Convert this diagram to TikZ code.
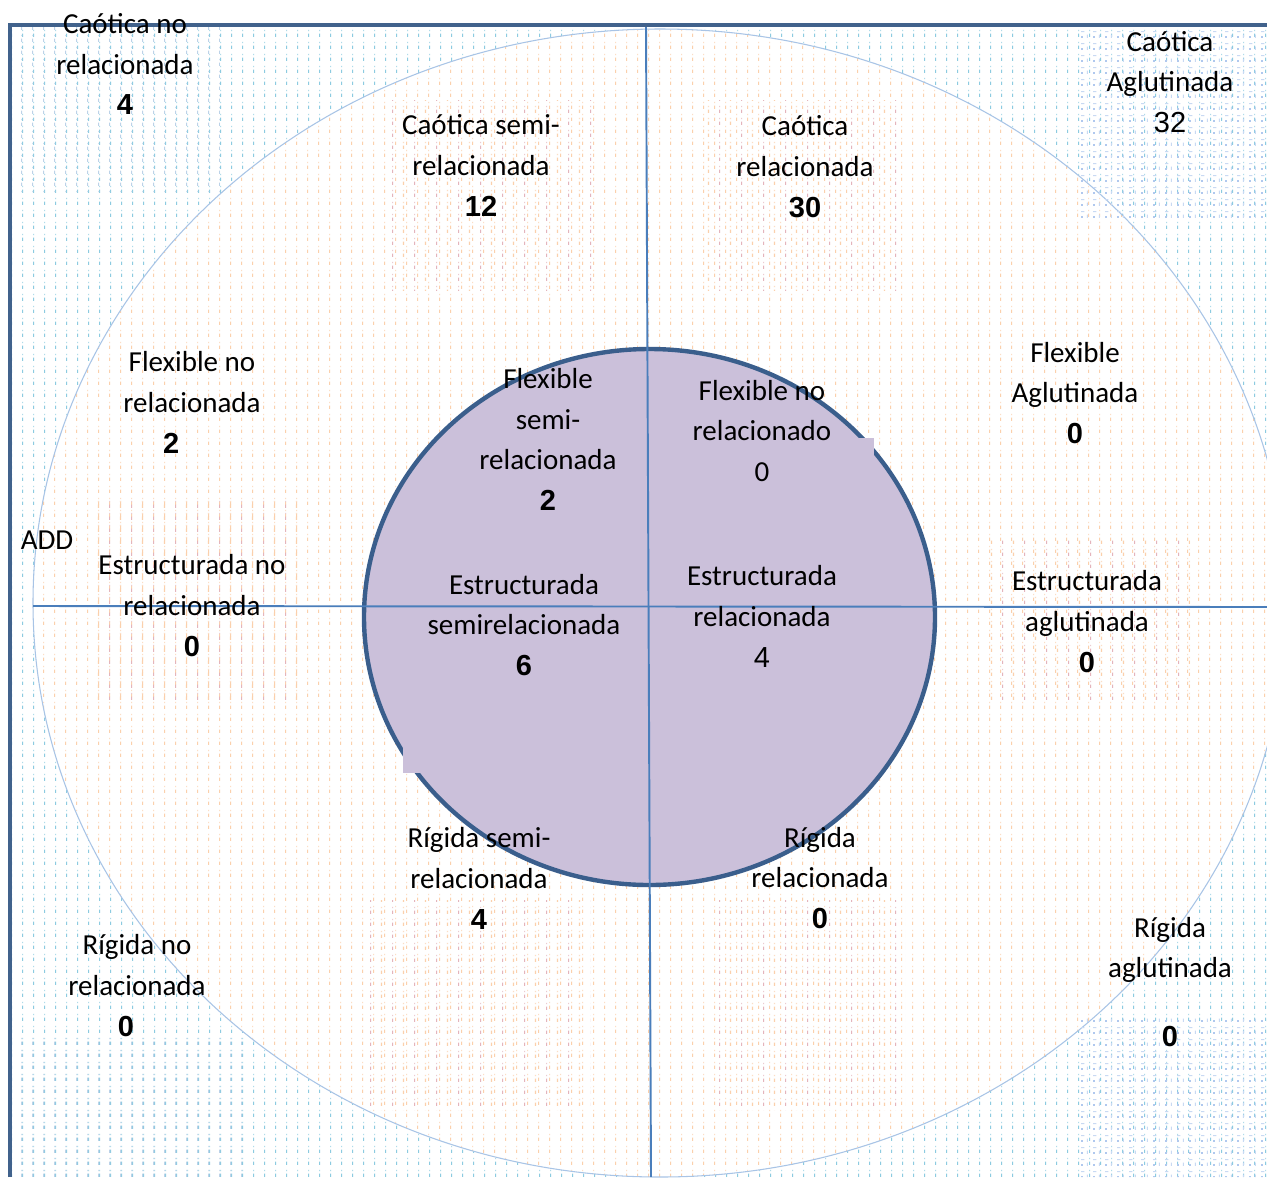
\documentclass[tikz,border=0pt]{standalone}
\usepackage{fontspec}
\setmainfont{Carlito}
\newfontfamily\numfont{Liberation Sans}
\usetikzlibrary{patterns.meta}

\definecolor{framebl}{RGB}{65,98,140}
\definecolor{axisbl}{RGB}{74,126,187}
\definecolor{rimbl}{RGB}{168,196,230}
\definecolor{ringbl}{RGB}{58,94,140}
\definecolor{lila}{RGB}{203,192,218}
\definecolor{dotbl}{RGB}{140,203,224}
\definecolor{dotgr}{RGB}{188,210,232}
\definecolor{dotor}{RGB}{251,208,172}
\definecolor{dotpk}{RGB}{228,180,188}
\definecolor{dotlv}{RGB}{176,200,238}

\newcommand{\num}[1]{{\numfont\bfseries #1}}
\newcommand{\numr}[1]{{\numfont #1}}

% dotted fills of the text boxes
\tikzdeclarepattern{
  name=bluedots, type=colored,
  bounding box={(0pt,0pt) and (6.2pt,6.8pt)},
  tile size={(6.2pt,6.8pt)},
  code={
    \fill[dotbl] (0pt,0pt) rectangle (0.7pt,1.9pt);
    \fill[dotbl!70] (0pt,3.4pt) rectangle (0.7pt,4.1pt);
  }}
\tikzdeclarepattern{
  name=greydots, type=colored,
  bounding box={(0pt,0pt) and (6.2pt,6.8pt)},
  tile size={(6.2pt,6.8pt)},
  code={
    \fill[dotgr] (0pt,0pt) rectangle (0.7pt,1.9pt);
    \fill[dotgr!70] (0pt,3.4pt) rectangle (0.7pt,4.1pt);
  }}
\tikzdeclarepattern{
  name=orangedots, type=colored,
  bounding box={(0pt,0pt) and (6.2pt,6.8pt)},
  tile size={(6.2pt,6.8pt)},
  code={
    \fill[dotor] (0pt,0pt) rectangle (0.7pt,1.9pt);
    \fill[dotor!70] (0pt,3.4pt) rectangle (0.7pt,4.1pt);
  }}
\tikzdeclarepattern{
  name=pinkdots, type=colored,
  bounding box={(0pt,0pt) and (12.4pt,6.8pt)},
  tile size={(12.4pt,6.8pt)},
  code={
    \fill[dotpk] (0pt,0pt) rectangle (0.7pt,1.9pt);
    \fill[dotpk!70] (0pt,3.4pt) rectangle (0.7pt,4.1pt);
    \fill[dotor] (6.2pt,0pt) rectangle (6.9pt,1.9pt);
    \fill[dotor!70] (6.2pt,3.4pt) rectangle (6.9pt,4.1pt);
  }}
\tikzdeclarepattern{
  name=lavgrid, type=colored,
  bounding box={(0pt,0pt) and (7pt,7pt)},
  tile size={(7pt,7pt)},
  code={
    \fill[dotlv] (0pt,0pt) rectangle (1.1pt,1.1pt);
    \fill[dotlv!70] (3.5pt,0pt) rectangle (4.1pt,2pt);
    \fill[dotlv!70] (0pt,3.5pt) rectangle (2pt,4.1pt);
  }}

\begin{document}
\begin{tikzpicture}[
    x=0.02cm, y=-0.02cm,
    lbl/.style={align=center, inner sep=0pt, font=\fontsize{16.5}{23.2}\selectfont},
    rim/.style={draw=rimbl, line width=0.6pt},
    axis/.style={draw=axisbl, line width=1.1pt},
    frame/.style={draw=framebl, line width=2.3pt},
  ]
  \useasboundingbox (0,0) rectangle (1267,1177);
  \fill[white] (0,0) rectangle (1267,1177);

  % backgrounds
  \begin{scope}
    \clip (10,25) rectangle (1267,1177);
    \fill[pattern=bluedots] (10,25) rectangle (1267,1177);
    \fill[white] (660,603) ellipse [x radius=627, y radius=574];
    \fill[pattern=orangedots] (660,603) ellipse [x radius=627, y radius=574];
    \foreach \a/\b in {{390,100}/{600,290}, {700,100}/{900,290}, {370,900}/{590,1110},
                       {710,900}/{905,1110}, {90,500}/{300,700}, {990,540}/{1190,700}}
      \fill[pattern=pinkdots] (\a) rectangle (\b);
    \draw[rim] (660,603) ellipse [x radius=627, y radius=574];
    \foreach \a/\b/\p in {{12,27}/{220,193}/greydots, {12,1035}/{242,1177}/greydots,
                          {1078,27}/{1267,220}/lavgrid, {1080,1017}/{1267,1177}/lavgrid}
      \fill[white] (\a) rectangle (\b) [pattern=\p] (\a) rectangle (\b);
  \end{scope}

  % inner circle
  \draw[draw=ringbl, line width=2.5pt, fill=lila] (649.5,617) ellipse [x radius=285.5, y radius=268];
  \fill[lila] (858,438) rectangle (874,455);
  \fill[lila] (403,747) rectangle (421,773);

  % axes and frame
  \coordinate (vtop) at (646,25);
  \coordinate (vbot) at (651,1177);
  \coordinate (hlft) at (33,606);
  \coordinate (hrgt) at (1267,607);
  \coordinate (corner) at (10,25);
  \coordinate (ftop) at (1267,25);
  \coordinate (fbot) at (10,1177);
  \draw[axis] (vtop) -- (vbot);
  \draw[axis] (hlft) -- (hrgt);
  \draw[frame] (fbot) -- (corner) -- (ftop);

  \node[lbl] (cnr)  at (125,64)    {Caótica no\\relacionada\\\num{4}};
  \node[lbl] (csr)  at (481,165.5) {Caótica semi-\\relacionada\\\num{12}};
  \node[lbl] (cr)   at (805,166.5) {Caótica\\relacionada\\\num{30}};
  \node[lbl] (ca)   at (1170,82)   {Caótica\\Aglutinada\\\numr{32}};
  \node[lbl] (fnr)  at (192,402.5) {Flexible no\\relacionada\\\hspace*{-23.8pt}\num{2}};
  \node[lbl] (fsr)  at (548,439.5) {Flexible\\semi-\\relacionada\\\num{2}};
  \node[lbl] (fnro) at (762,431)   {Flexible no\\relacionado\\0};
  \node[lbl] (fa)   at (1075,393)  {Flexible\\Aglutinada\\\num{0}};
  \node[lbl] (add)  at (47,540)    {ADD};
  \node[lbl] (enr)  at (192,605.5) {Estructurada no\\relacionada\\\num{0}};
  \node[lbl] (esr)  at (524,625)   {Estructurada\\semirelacionada\\\num{6}};
  \node[lbl] (er)   at (762,616.5) {Estructurada\\relacionada\\\numr{4}};
  \node[lbl] (ea)   at (1087,621.5) {Estructurada\\aglutinada\\\num{0}};
  \node[lbl] (rsr)  at (479,878.5) {Rígida semi-\\relacionada\\\num{4}};
  \node[lbl] (rr)   at (820,878)   {Rígida\\relacionada\\\num{0}};
  \node[lbl] (rnr)  at (137,985.5) {Rígida no\\relacionada\\\hspace*{-12.5pt}\num{0}};
  \node[lbl] (ra)   at (1170,982)  {Rígida\\aglutinada\\[15.9pt]\num{0}};
\end{tikzpicture}
\end{document}
